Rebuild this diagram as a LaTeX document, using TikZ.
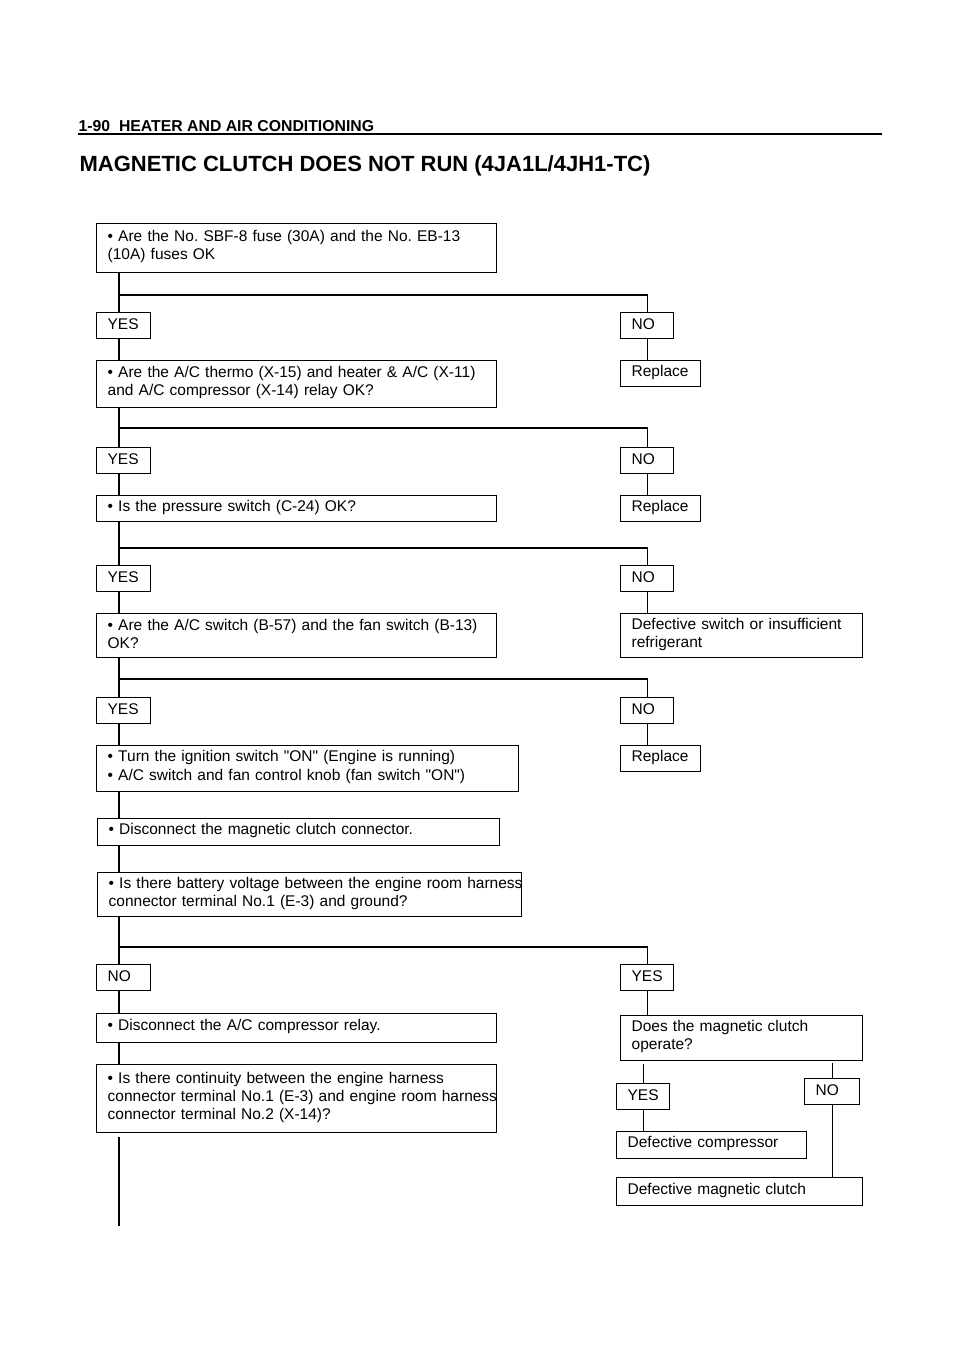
\documentclass[tikz,border=0pt]{standalone}
\usepackage{fontspec}
\setmainfont{Liberation Sans}
\usepackage{tikz}
\frenchspacing

\begin{document}
\begin{tikzpicture}[x=1pt,y=-1pt,
        line width=1.3pt,
        every node/.style={font=\fontsize{15.5}{18}\selectfont},
        bx/.style 2 args={
          draw, anchor=north west, inner xsep=11pt, inner ysep=0pt,
          align=left, text width=#1pt-22pt, minimum height=#2pt,
          execute at end node={\endgraf\kern3pt}
        },
        ans/.style={bx={#1}{26}}
      ]
      \useasboundingbox (0,0) rectangle (960,1358);
      % page head and title
      \node [anchor=base west, inner sep=0pt, font=\bfseries\fontsize{15.8}{18}\selectfont] (head) at (78,131) {1-90\ \ HEATER AND AIR CONDITIONING};
      \draw [line width=1.4pt] (head.base west) ++(0,3) -- ++(804,0);
      \node [anchor=base west, inner sep=0pt, font=\bfseries\fontsize{22}{26}\selectfont] (title) at (79,171) {MAGNETIC CLUTCH DOES NOT RUN (4JA1L/4JH1-TC)};

      % left column
      \node [bx={400}{49}] (fuse) at (96,223) {• Are the No. SBF-8 fuse (30A) and the No. EB-13\\(10A) fuses OK};
      \node [ans=54] (yes1) at (96,312) {YES};
      \node [bx={400}{47}] (relay) at (96,360) {• Are the A/C thermo (X-15) and heater \& A/C (X-11)\\and A/C compressor (X-14) relay OK?};
      \node [ans=54] (yes2) at (96,447) {YES};
      \node [bx={400}{26}] (press) at (96,495) {• Is the pressure switch (C-24) OK?};
      \node [ans=54] (yes3) at (96,565) {YES};
      \node [bx={400}{44}] (acsw) at (96,613) {• Are the A/C switch (B-57) and the fan switch (B-13)\\OK?};
      \node [ans=54] (yes4) at (96,697) {YES};
      \node [bx={422}{46}] (ign) at (96,745) {• Turn the ignition switch \textquotedbl ON\textquotedbl{} (Engine is running)\\[1pt]• A/C switch and fan control knob (fan switch \textquotedbl ON\textquotedbl)};
      \node [bx={402}{27}] (disc) at (97,818) {• Disconnect the magnetic clutch connector.};
      \node [bx={424}{44}] (batt) at (97,872) {\mbox{• Is there battery voltage between the engine room harness}\\connector terminal No.1 (E-3) and ground?};
      \node [ans=54] (no5) at (96,964) {NO};
      \node [bx={400}{29}] (cmprly) at (96,1013) {• Disconnect the A/C compressor relay.};
      \node [bx={400}{68}] (cont) at (96,1064) {• Is there continuity between the engine harness\\\mbox{connector terminal No.1 (E-3) and engine room harness}\\connector terminal No.2 (X-14)?};

      % right column
      \node [ans=53] (no1) at (620,312) {NO};
      \node [bx={80}{26}] (rep1) at (620,360) {Replace};
      \node [ans=53] (no2) at (620,447) {NO};
      \node [bx={80}{26}] (rep2) at (620,495) {Replace};
      \node [ans=53] (no3) at (620,565) {NO};
      \node [bx={242}{44}] (defsw) at (620,613) {Defective switch or insufficient\\refrigerant};
      \node [ans=53] (no4) at (620,697) {NO};
      \node [bx={80}{26}] (rep3) at (620,745) {Replace};
      \node [ans=53] (yes5) at (620,964) {YES};
      \node [bx={242}{45}] (oper) at (620,1015) {Does the magnetic clutch\\operate?};
      \node [ans=53] (yes6) at (616,1083) {YES};
      \node [ans=55] (no6) at (804,1078) {NO};
      \node [bx={190}{27}] (defcmp) at (616,1131) {Defective compressor};
      \node [bx={246}{28}] (defmag) at (616,1177) {Defective magnetic clutch};

      % branch points
      \coordinate (s1) at (119,295);
      \coordinate (s2) at (119,428);
      \coordinate (s3) at (119,548);
      \coordinate (s4) at (119,679);
      \coordinate (s5) at (119,947);

      % connectors
      \draw (fuse.south -| s1) -- (yes1.north -| s1);
      \draw (s1) -| (no1.north);
      \draw (yes1.south -| s1) -- (relay.north -| s1);
      \draw (no1.south) -- (rep1.north -| no1.south);
      \draw (relay.south -| s2) -- (yes2.north -| s2);
      \draw (s2) -| (no2.north);
      \draw (yes2.south -| s2) -- (press.north -| s2);
      \draw (no2.south) -- (rep2.north -| no2.south);
      \draw (press.south -| s3) -- (yes3.north -| s3);
      \draw (s3) -| (no3.north);
      \draw (yes3.south -| s3) -- (acsw.north -| s3);
      \draw (no3.south) -- (defsw.north -| no3.south);
      \draw (acsw.south -| s4) -- (yes4.north -| s4);
      \draw (s4) -| (no4.north);
      \draw (yes4.south -| s4) -- (ign.north -| s4);
      \draw (no4.south) -- (rep3.north -| no4.south);
      \draw (ign.south -| s4) -- (disc.north -| s4);
      \draw (disc.south -| s4) -- (batt.north -| s4);
      \draw (batt.south -| s5) -- (no5.north -| s5);
      \draw (s5) -| (yes5.north);
      \draw (no5.south -| s5) -- (cmprly.north -| s5);
      \draw (cmprly.south -| s5) -- (cont.north -| s5);
      \draw ([shift={(23,4)}]cont.south west) -- ++(0,89);
      \draw (yes5.south) -- (oper.north -| yes5.south);
      \draw (yes6.north) -- ++(0,-19);
      \draw (no6.north) -- ++(0,-15);
      \draw (yes6.south) -- (defcmp.north -| yes6.south);
      \draw (no6.south) -- (defmag.north -| no6.south);
    \end{tikzpicture}
\end{document}
